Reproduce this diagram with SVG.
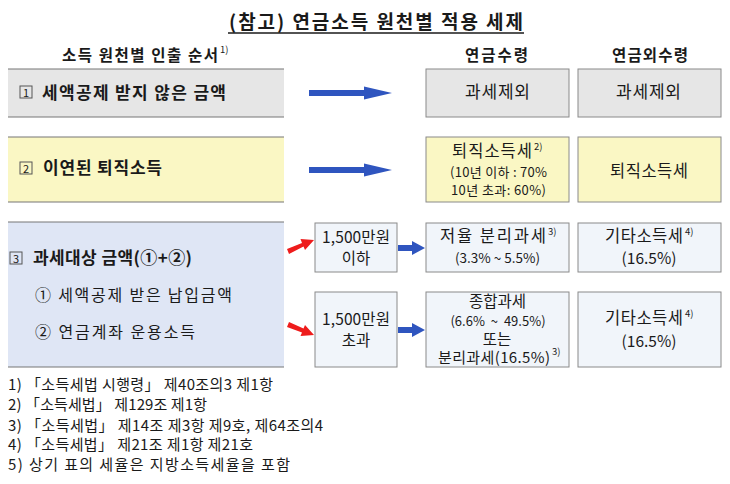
<svg xmlns="http://www.w3.org/2000/svg" width="730" height="484" viewBox="0 0 730 484">
<defs>
<style>
text{font-family:"Noto Sans CJK KR","Liberation Sans",sans-serif;fill:#1a1a1a}
.b{font-weight:bold}
.sup{font-size:9.5px}
.gray{fill:#e6e6e6;stroke:#8a8a8a;stroke-width:1}
.yel{fill:#faf7c4;stroke:#8a8a8a;stroke-width:1}
.lb{fill:#f1f5fa;stroke:#8a8a8a;stroke-width:1}
.edge{stroke:#777;stroke-width:1.2}
.num{fill:none;stroke:#555;stroke-width:1}
.blue{fill:#2f55bf}
.red{fill:#ee1c1c}
</style>
</defs>
<rect width="730" height="484" fill="#fff"/>
<g id="title">
<text x="229" y="29" class="b" font-size="19" textLength="294" lengthAdjust="spacing">(참고) 연금소득 원천별 적용 세제</text>
<line x1="228" y1="33" x2="524" y2="33" stroke="#1a1a1a" stroke-width="1.3"/>
</g>
<g id="headers">
<text x="62" y="61" class="b" font-size="15.5" textLength="156" lengthAdjust="spacing">소득 원천별 인출 순서</text>
<text x="220" y="53" class="sup">1)</text>
<text x="465" y="61" class="b" font-size="15.5" textLength="63" lengthAdjust="spacing">연금수령</text>
<text x="612" y="61" class="b" font-size="15.5" textLength="76" lengthAdjust="spacing">연금외수령</text>
</g>
<g id="row1-left">
<rect x="8" y="69" width="276" height="48" fill="#e6e6e6"/>
<line x1="8" y1="69" x2="284" y2="69" class="edge"/>
<line x1="8" y1="117" x2="284" y2="117" class="edge"/>
<rect x="20" y="86" width="12" height="12" class="num"/>
<text x="26" y="96.5" text-anchor="middle" font-size="11">1</text>
<text x="42" y="99" class="b" font-size="17" textLength="184" lengthAdjust="spacing">세액공제 받지 않은 금액</text>
</g>
<g id="row1-a">
<rect x="426" y="69" width="143" height="48" class="gray"/>
<text x="465" y="98" font-size="17" textLength="65" lengthAdjust="spacing">과세제외</text>
</g>
<g id="row1-b">
<rect x="578" y="69" width="143" height="48" class="gray"/>
<text x="616" y="98" font-size="17" textLength="65" lengthAdjust="spacing">과세제외</text>
</g>
<g id="row2-left">
<rect x="8" y="137" width="276" height="65" fill="#faf7c4"/>
<line x1="8" y1="137" x2="284" y2="137" class="edge"/>
<line x1="8" y1="202" x2="284" y2="202" class="edge"/>
<rect x="20" y="162" width="12" height="12" class="num"/>
<text x="26" y="172.5" text-anchor="middle" font-size="11">2</text>
<text x="43" y="174" class="b" font-size="17" textLength="119" lengthAdjust="spacing">이연된 퇴직소득</text>
</g>
<g id="row2-a">
<rect x="426" y="137" width="143" height="65" class="yel"/>
<text x="452" y="157" font-size="16.5" textLength="80" lengthAdjust="spacing">퇴직소득세</text>
<text x="534" y="150" class="sup">2)</text>
<text x="450" y="177" font-size="13" textLength="97" lengthAdjust="spacing">(10년 이하 : 70%</text>
<text x="451" y="194.5" font-size="13" textLength="95" lengthAdjust="spacing">10년 초과: 60%)</text>
</g>
<g id="row2-b">
<rect x="578" y="137" width="143" height="65" class="yel"/>
<text x="610" y="177" font-size="16.5" textLength="78" lengthAdjust="spacing">퇴직소득세</text>
</g>
<g id="row3-left">
<rect x="8" y="222" width="276" height="145" fill="#dfe6f5"/>
<line x1="8" y1="222" x2="284" y2="222" class="edge"/>
<line x1="8" y1="367" x2="284" y2="367" class="edge"/>
<rect x="10" y="252" width="12" height="12" class="num"/>
<text x="16" y="262.5" text-anchor="middle" font-size="11">3</text>
<text x="33" y="264" class="b" font-size="17" textLength="159" lengthAdjust="spacing">과세대상 금액(①+②)</text>
<text x="35" y="301" font-size="16" textLength="197" lengthAdjust="spacing">① 세액공제 받은 납입금액</text>
<text x="35" y="338" font-size="16" textLength="160" lengthAdjust="spacing">② 연금계좌 운용소득</text>
</g>
<g id="le1500">
<rect x="315" y="223" width="82" height="49" class="lb"/>
<text x="322" y="243" font-size="15.5" textLength="68" lengthAdjust="spacing">1,500만원</text>
<text x="356" y="264" text-anchor="middle" font-size="15.5">이하</text>
</g>
<g id="gt1500">
<rect x="315" y="292" width="82" height="75" class="lb"/>
<text x="322" y="325" font-size="15.5" textLength="68" lengthAdjust="spacing">1,500만원</text>
<text x="356" y="346" text-anchor="middle" font-size="15.5">초과</text>
</g>
<g id="row3a-a">
<rect x="426" y="223" width="143" height="49" class="lb"/>
<text x="440" y="242" font-size="16.5" textLength="106" lengthAdjust="spacing">저율 분리과세</text>
<text x="548" y="235" class="sup">3)</text>
<text x="497.5" y="263" text-anchor="middle" font-size="13.5">(3.3% ~ 5.5%)</text>
</g>
<g id="row3a-b">
<rect x="578" y="223" width="143" height="49" class="lb"/>
<text x="605" y="242" font-size="16.5" textLength="78" lengthAdjust="spacing">기타소득세</text>
<text x="685" y="235" class="sup">4)</text>
<text x="649" y="264" text-anchor="middle" font-size="15.5">(16.5%)</text>
</g>
<g id="row3b-a">
<rect x="426" y="292" width="143" height="75" class="lb"/>
<text x="497.5" y="307" text-anchor="middle" font-size="15.5">종합과세</text>
<text x="498" y="325.5" text-anchor="middle" font-size="13" word-spacing="3">(6.6% ~ 49.5%)</text>
<text x="497" y="344.5" text-anchor="middle" font-size="15.5">또는</text>
<text x="438" y="362.5" font-size="15" textLength="112" lengthAdjust="spacing">분리과세(16.5%)</text>
<text x="552" y="355" class="sup">3)</text>
</g>
<g id="row3b-b">
<rect x="578" y="292" width="143" height="75" class="lb"/>
<text x="605" y="324" font-size="16.5" textLength="78" lengthAdjust="spacing">기타소득세</text>
<text x="685" y="317" class="sup">4)</text>
<text x="649" y="347" text-anchor="middle" font-size="15.5">(16.5%)</text>
</g>
<g id="connectors">
<polygon class="blue" points="309,90 364,90 364,86.5 392,93 364,99.5 364,96 309,96"/>
<polygon class="blue" points="309,167 364,167 364,163.5 392,170 364,176.5 364,173 309,173"/>
<polygon class="blue" points="398,245 412,245 412,241 425,248 412,255 412,251 398,251"/>
<polygon class="blue" points="398,327 412,327 412,323 425,330 412,337 412,333 398,333"/>
<polygon class="red" points="287,249 302,243 300.5,239 314,240 305,250 303.5,246.5 289,254"/>
<polygon class="red" points="289,322 303.5,328.5 305,325 314,335 300.5,336 302,332.5 287,327"/>
</g>
<g id="footnotes" font-size="15">
<text x="8" y="390" textLength="265" lengthAdjust="spacing">1) 「소득세법 시행령」 제40조의3 제1항</text>
<text x="8" y="410" textLength="199" lengthAdjust="spacing">2) 「소득세법」 제129조 제1항</text>
<text x="8" y="431" textLength="315" lengthAdjust="spacing">3) 「소득세법」 제14조 제3항 제9호, 제64조의4</text>
<text x="8" y="450" textLength="245" lengthAdjust="spacing">4) 「소득세법」 제21조 제1항 제21호</text>
<text x="8" y="470" textLength="282" lengthAdjust="spacing">5) 상기 표의 세율은 지방소득세율을 포함</text>
</g>
</svg>
